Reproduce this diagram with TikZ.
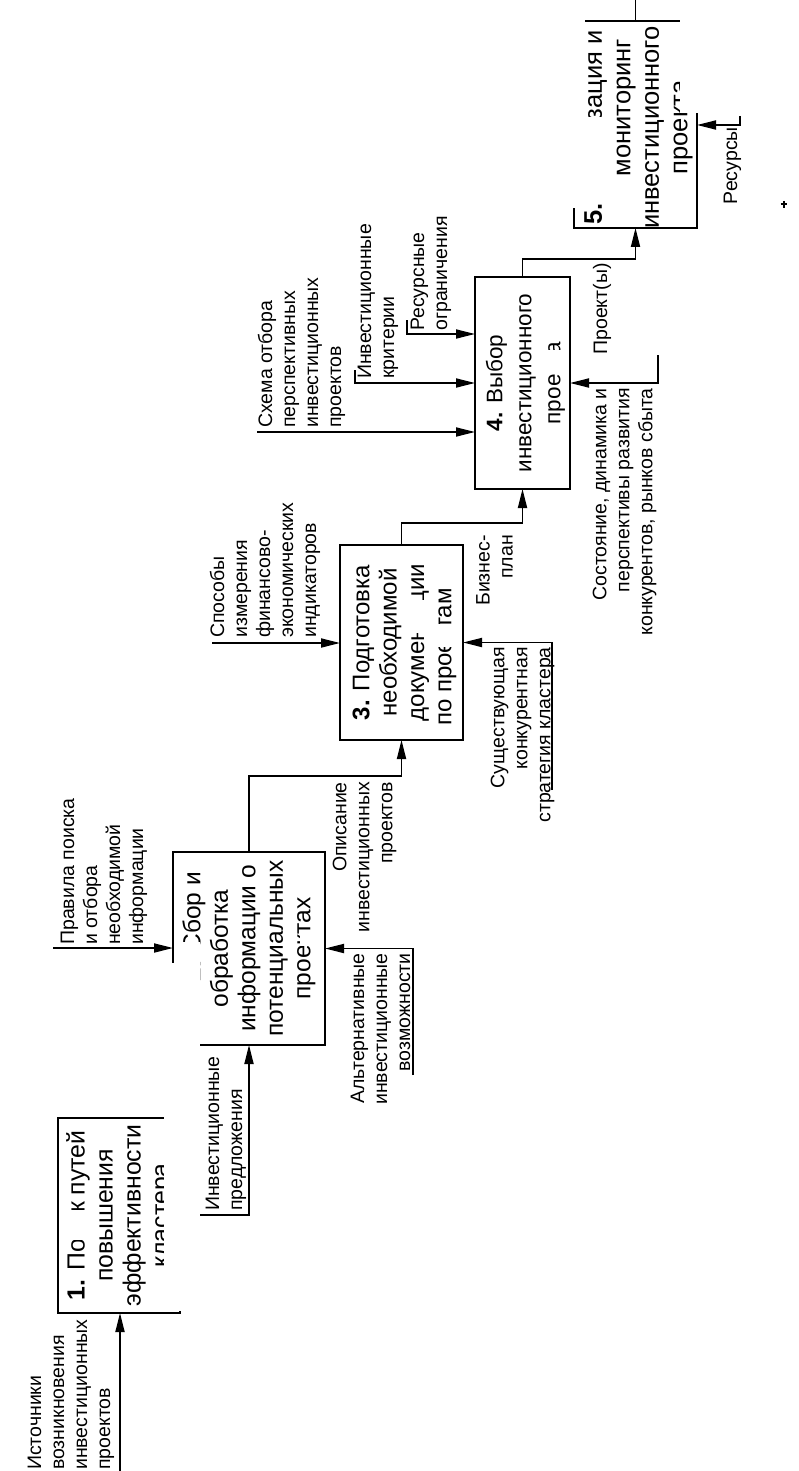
\documentclass[tikz,border=0pt]{standalone}
\usepackage{fontspec}
\setmainfont{Liberation Sans}
\newfontfamily\boxfont{Liberation Sans}
\usetikzlibrary{arrows.meta}
\tikzset{
  lbl/.style={rotate=90, inner sep=0pt, font=\fontsize{19.5}{23}\selectfont},
  lblL/.style={lbl, align=left, anchor=north west},
  lblR/.style={lbl, align=right, anchor=north east},
  boxtxt/.style={rotate=90, inner sep=0pt, align=center},
  boxshape/.style={rectangle, inner sep=0pt, outer sep=0pt},
  edge/.style={line width=2.6pt},
  conn/.style={line width=1.8pt, -{Triangle[length=19pt,width=9pt]}},
  plainline/.style={line width=1.8pt},
  patch/.style={fill=white, draw=none}
}
\begin{document}
\begin{tikzpicture}[x=1pt, y=-1pt]
\useasboundingbox (0,0) rectangle (798,1471);
\fill[white] (0,0) rectangle (798,1471);
\clip (0,0) rectangle (798,1471);

% boxes
\node[boxshape, minimum width=122pt, minimum height=195pt] (b1) at (119,1215.5) {};
\node[boxshape, minimum width=152pt, minimum height=193pt] (b2) at (249,948.5) {};
\node[boxshape, minimum width=123pt, minimum height=195pt] (b3) at (401.5,642.5) {};
\node[boxshape, minimum width=95pt, minimum height=212pt] (b4) at (522.5,383) {};
\node[boxshape, minimum width=123pt, minimum height=207pt] (b5) at (635.5,124.5) {};
\foreach \b in {b1,b2,b3,b4,b5} \draw[edge] (\b.north west) rectangle (\b.south east);

% box texts
\node[boxtxt, font=\boxfont\fontsize{24.8}{28}\selectfont] (t1) at ([xshift=1pt]b1) {\textbf{1.} Поиск путей\\повышения\\эффективности\\кластера};
\node[boxtxt, font=\boxfont\fontsize{24.5}{27.5}\selectfont] (t2) at (b2) {\hbox to 44pt{}\textbf{2.} Сбор и\\обработка\\информации о\\потенциальных\\проектах};
\node[boxtxt, font=\boxfont\fontsize{24}{27.3}\selectfont] (t3) at ([xshift=3pt]b3) {\textbf{3.} Подготовка\\необходимой\\документации\\по проектам\hbox to 29pt{}};
\node[boxtxt, font=\boxfont\fontsize{22.5}{29}\selectfont] (t4) at ([xshift=3pt]b4) {\textbf{4.} Выбор\\инвестиционного\\проекта};
\node[boxtxt, font=\boxfont\fontsize{25.5}{28.5}\selectfont] (t5) at ([xshift=3pt,yshift=-3pt]b5) {\textbf{5.} Реализация и\\\hbox to 40pt{}мониторинг\\инвестиционного\\проекта};

% free ends
\coordinate (s1) at (120,1475);
\coordinate (s2) at (197,1215);
\coordinate (c2) at (53,948);
\coordinate (m2) at (413,1075);
\coordinate (c3) at (212,643);
\coordinate (m3) at (552,790);
\coordinate (c4a) at (257,432);
\coordinate (t4b) at (355,370);
\coordinate (c4b) at (355,383);
\coordinate (t4c) at (407,320);
\coordinate (c4c) at (407,334);
\coordinate (t4d) at (658,355);
\coordinate (m4) at (658,383);
\coordinate (t5a) at (740,116);
\coordinate (m5) at (740,125);
\coordinate (o5) at (635.5,-5);

% connectors
\draw[conn] (s1) -- (s1 |- b1.south);
\draw[conn] (s2) -- (s2 -| b2.south) -- (b2.south);
\draw[conn] (c2) -- (c2 -| b2.west);
\draw[conn] (m2) -- (m2 |- b2.east) -- (b2.east);
\draw[conn] (b2.north) -- ++(0,-76) -| (b3.south);
\draw[conn] (c3) -- (c3 -| b3.west);
\draw[conn] (b3.north) -- ++(0,-22) -| (b4.south);
\draw[conn] (m3) -- (m3 |- b3.east) -- (b3.east);
\draw[conn] (c4a) -- (c4a -| b4.west);
\draw[conn] (t4b) -- (c4b) -- (c4b -| b4.west);
\draw[conn] (t4c) -- (c4c) -- (c4c -| b4.west);
\draw[conn] (t4d) -- (m4) -- (m4 -| b4.east);
\draw[conn] (b4.north) -- ++(0,-18) -| (b5.south);
\draw[conn] (t5a) -- (m5) -- (m5 -| b5.east);
\draw[plainline] (b5.north) -- (o5);

% labels
\node[lblL] (l1) at (27.5,1470) {Источники\\возникновения\\инвестиционных\\проектов};
\node[lblL] (l2) at (205.5,1211) {Инвестиционные\\предложения};
\node[lblL] (l3) at (60.5,945) {Правила поиска\\и отбора\\необходимой\\информации};
\node[lblR] (l4) at (350.5,953) {Альтернативные\\инвестиционные\\возможности};
\node[lblR] (l5) at (332.5,782) {Описание\\инвестиционных\\проектов};
\node[lblL] (l6) at (209.5,638) {Способы\\измерения\\финансово-\\экономических\\индикаторов};
\node[lblR] (l7) at (476,535) {Бизнес-\\план};
\node[lblR] (l8) at (490.5,647) {Существующая\\конкурентная\\стратегия кластера};
\node[lblL] (l9) at (257.5,428) {Схема отбора\\перспективных\\инвестиционных\\проектов};
\node[lblL] (l10) at (357.5,379) {Инвестиционные\\критерии};
\node[lblL] (l11) at (410.5,331) {Ресурсные\\ограничения};
\node[lbl] (l12) at (602,309) {Проект(ы)};
\node[lblR] (l13) at (592.5,388) {Состояние, динамика и\\перспективы развития\\конкурентов, рынков сбыта};
\node[lblR] (l14) at (723.5,127) {Ресурсы};

% small stray mark at the right edge
\draw[line width=1.2pt] (780.5,204) -- (787,204) (784,201) -- (784,208);

% occluded parts of the reference
\fill[patch] (64,1210) rectangle (96,1240);
\fill[patch] (164,1100) rectangle (200,1311);
\fill[patch] (176,942) rectangle (200,1047);
\fill[patch] (166,963) rectangle (180,1047);
\fill[patch] (300,930) rectangle (318,946);
\fill[patch] (405,600) rectangle (432,633);
\fill[patch] (435,624) rectangle (460,647);
\fill[patch] (545,350) rectangle (568,373);
\fill[patch] (578,117) rectangle (612,198);
\fill[patch] (560,-5) rectangle (585,208);
\fill[patch] (680,-5) rectangle (720,113);
\end{tikzpicture}
\end{document}
